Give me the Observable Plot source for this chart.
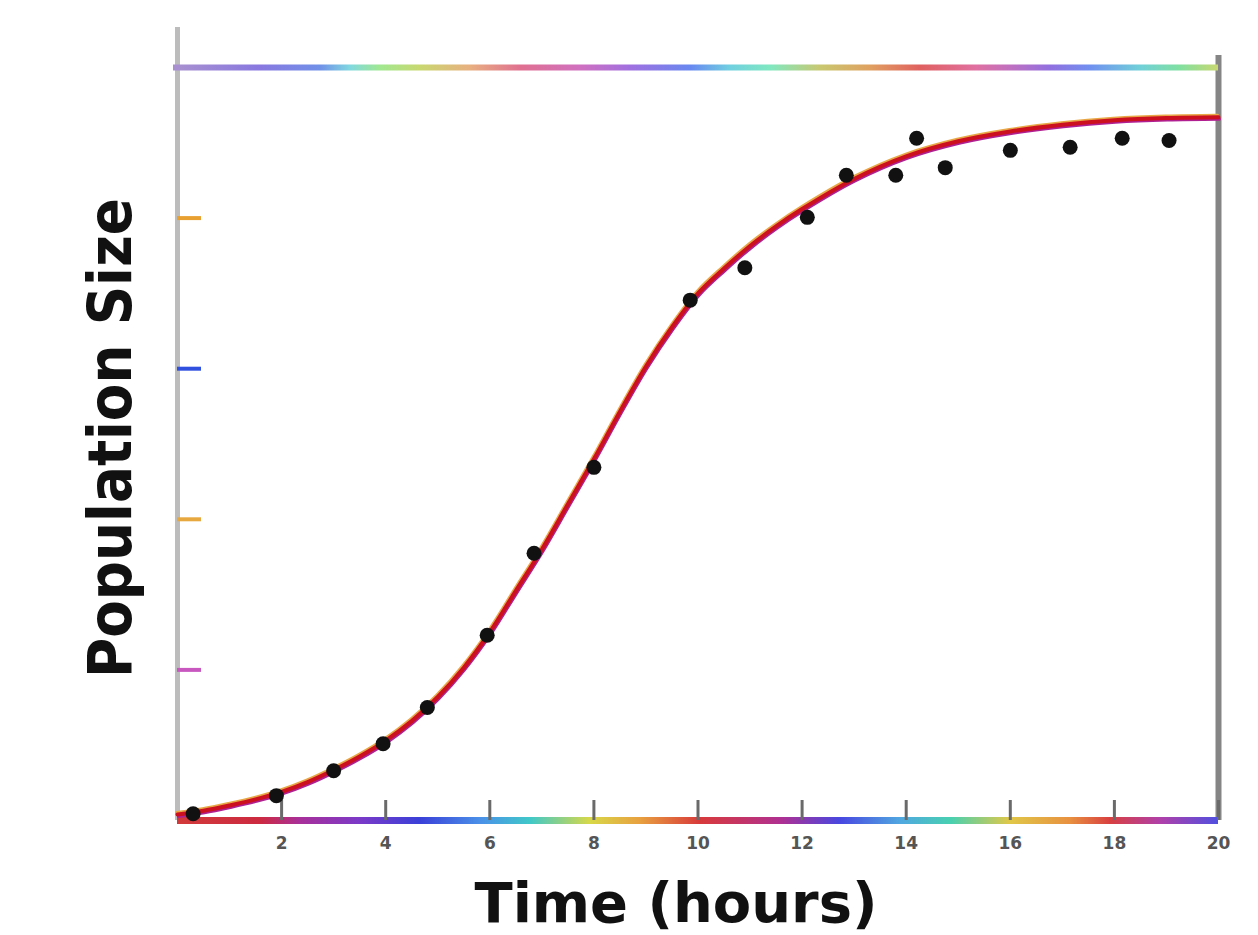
<!DOCTYPE html>
<html>
<head>
<meta charset="utf-8">
<script src="https://cdn.jsdelivr.net/npm/d3@7"></script>
<script src="https://cdn.jsdelivr.net/npm/@observablehq/plot@0.6"></script>
<style>
  html, body { margin: 0; padding: 0; background: #fff; }
  #chart svg { display: block; }
</style>
</head>
<body>
<div id="chart"></div>
<script>
// ---- data ----
const obsTime = [0.3, 1.9, 3.0, 3.95, 4.8, 5.95, 6.85, 8.0, 9.85, 10.9, 12.1, 12.85, 13.8, 14.2, 14.75, 16.0, 17.15, 18.15, 19.05];
const obsPop  = [9, 33, 66, 102, 150, 246, 355, 469, 691, 734, 801, 857, 857, 906, 867, 890, 894, 906, 903];

const fitTime = [0, 0.5, 1, 1.5, 2, 2.5, 3, 3.5, 4, 4.5, 5, 5.5, 6, 6.5, 7, 7.5, 8, 8.5, 9, 9.5, 10, 10.5, 11, 11.5, 12, 13, 14, 15, 16, 17, 18, 19, 20];
const fitPop  = [8, 13, 20, 28, 38, 51, 67, 85, 106, 132, 164, 203, 250, 305, 360, 420, 480, 543, 603, 655, 700, 733, 763, 789, 812, 852, 882, 902, 915, 924, 930, 933, 934];

const xTicks = [2, 4, 6, 8, 10, 12, 14, 16, 18, 20];
const yTicks = [200, 400, 600, 800];
const yTickColors = ["#c858c0", "#e8a840", "#3050e0", "#e8a030"];

const xLabel = "Time (hours)";
const yLabel = "Population Size";

// colour stops of the rainbow-tinted frame lines (fraction along the line)
const topStops  = [0, 0.08, 0.137, 0.166, 0.195, 0.233, 0.281, 0.33, 0.387, 0.435, 0.493, 0.531, 0.57, 0.618, 0.666, 0.714, 0.767, 0.80, 0.839, 0.877, 0.925, 0.963, 1];
const topColors = ["#a890d0", "#8878e0", "#7090e8", "#80d8e0", "#a0e890", "#c8d870", "#e8b080", "#e07090", "#d070c0", "#a070e0", "#6888f0", "#70d0e0", "#80e8c0", "#c8c870", "#e0a060", "#e06060", "#e070a0", "#c070c0", "#9070e0", "#7090f0", "#70d0d8", "#80e0a0", "#c8d870"];
const bottomStops  = [0, 0.08, 0.118, 0.176, 0.233, 0.291, 0.339, 0.397, 0.445, 0.502, 0.579, 0.637, 0.695, 0.743, 0.80, 0.858, 0.896, 0.944, 1];
const bottomColors = ["#d23a3a", "#cc2a40", "#a8309a", "#7a3ac8", "#3a40d8", "#4a90e8", "#40c8c8", "#d8d848", "#e8a040", "#d83a3a", "#b03090", "#4848e0", "#50a8e0", "#48d0b0", "#e0c848", "#e89040", "#d84040", "#b040a8", "#5050e0"];

// ---- tables ----
const observations = obsTime.map((t, i) => ({t, p: obsPop[i]}));
const fit = fitTime.map((t, i) => ({t, p: fitPop[i]}));

const W = 1258, H = 935;
const mL = 177, mR = 40, mT = 67, mB = 115;
const frameW = W - mL - mR, frameH = H - mT - mB;

const chart = Plot.plot({
  width: W,
  height: H,
  marginLeft: mL,
  marginRight: mR,
  marginTop: mT,
  marginBottom: mB,
  x: {domain: [0, 20]},
  y: {domain: [0, 1000], axis: null},
  color: {type: "identity"},
  style: {fontFamily: "'DejaVu Sans', sans-serif", background: "white", overflow: "visible"},
  marks: [
    Plot.ruleX([0], {stroke: "#bcbcbc", strokeWidth: 5, insetTop: -40}),
    Plot.ruleX([20], {stroke: "#858585", strokeWidth: 6, insetTop: -12}),
    Plot.ruleY([1000], {stroke: "url(#topGrad)", strokeWidth: 6, insetLeft: -4}),
    Plot.ruleY([0], {stroke: "url(#bottomGrad)", strokeWidth: 7}),
    Plot.tickY(yTicks, {y: d => d, stroke: (d, i) => yTickColors[i], strokeWidth: 4, insetRight: frameW - 24}),
    Plot.tickX(xTicks, {x: d => d, stroke: "#6a6a6a", strokeWidth: 3, insetTop: frameH - 20}),
    Plot.axisX({ticks: xTicks, tickSize: 0, tickPadding: 16, fontSize: 17, fill: "#555", fontWeight: "bold", label: null}),
    Plot.line(fit, {x: "t", y: "p", stroke: "#e8a848", strokeWidth: 3, dx: -1, dy: -2, curve: "catmull-rom"}),
    Plot.line(fit, {x: "t", y: "p", stroke: "#b02090", strokeWidth: 3, dx: 1, dy: 2, curve: "catmull-rom"}),
    Plot.line(fit, {x: "t", y: "p", stroke: "#cc1020", strokeWidth: 4, curve: "catmull-rom"}),
    Plot.dot(observations, {x: "t", y: "p", r: 7.5, fill: "#111", stroke: "none"})
  ]
});

// gradients for the frame lines, placed with the x scale
const svg = d3.select(chart);
const xs = chart.scale("x");
const gx1 = xs.apply(0), gx2 = xs.apply(20);
const defs = svg.insert("defs", ":first-child");
function addGrad(id, stops, colors) {
  const g = defs.append("linearGradient")
    .attr("id", id)
    .attr("gradientUnits", "userSpaceOnUse")
    .attr("x1", gx1).attr("x2", gx2).attr("y1", 0).attr("y2", 0);
  stops.forEach((s, i) => g.append("stop").attr("offset", s).attr("stop-color", colors[i]));
}
addGrad("topGrad", topStops, topColors);
addGrad("bottomGrad", bottomStops, bottomColors);

// axis titles
svg.append("text")
  .attr("x", 676).attr("y", 922)
  .attr("text-anchor", "middle")
  .attr("font-family", "'DejaVu Sans', sans-serif")
  .attr("font-weight", "bold")
  .attr("font-size", 56)
  .attr("fill", "#111")
  .attr("textLength", 403)
  .attr("lengthAdjust", "spacingAndGlyphs")
  .text(xLabel);

svg.append("text")
  .attr("transform", "translate(131,438) rotate(-90)")
  .attr("text-anchor", "middle")
  .attr("font-family", "'DejaVu Sans', sans-serif")
  .attr("font-weight", "bold")
  .attr("font-size", 60)
  .attr("fill", "#111")
  .attr("textLength", 480)
  .attr("lengthAdjust", "spacingAndGlyphs")
  .text(yLabel);

document.getElementById("chart").appendChild(chart);
</script>
</body>
</html>
